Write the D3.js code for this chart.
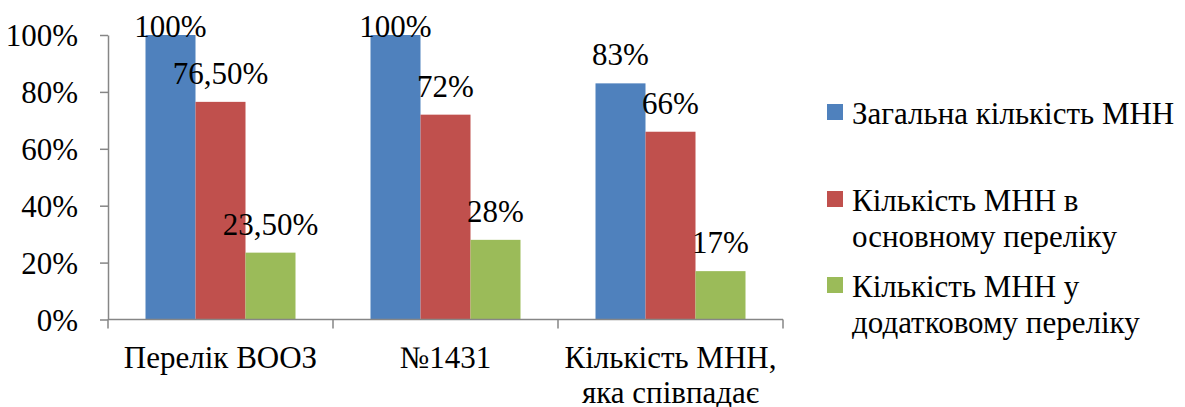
<!DOCTYPE html>
<html>
<head>
    <meta charset="UTF-8">
    <script src="https://d3js.org/d3.v7.min.js"></script>
    <style>
        body { margin: 0; }
        #chart text { font-family: "Liberation Serif", Tinos, "DejaVu Serif", serif !important; }
    </style>
</head>
<body>
    <svg id="chart" width="1185" height="407"></svg>
    <script>
    // data
        const categories = [["Перелік ВООЗ"], ["№1431"], ["Кількість МНН,", "яка співпадає"]];
        const seriesNames = [["Загальна кількість МНН"],
                             ["Кількість МНН в", "основному переліку"],
                             ["Кількість МНН у", "додатковому переліку"]];
        const values = [
            [1.00, 1.00, 0.83],
            [0.765, 0.72, 0.66],
            [0.235, 0.28, 0.17]
        ];
        const valueLabels = [
            ["100%", "100%", "83%"],
            ["76,50%", "72%", "66%"],
            ["23,50%", "28%", "17%"]
        ];
        const yTicks = [0, 0.2, 0.4, 0.6, 0.8, 1.0];
        const colors = ["#4F81BD", "#C0504D", "#9BBB59"];

        const fontSize = 31;
        const axisColor = "#868686";

        const svg = d3.select("#chart").style("display", "block");

    //scales
        const catIdx = categories.map((d, i) => i);
        const serIdx = seriesNames.map((d, i) => i);

        const x0 = d3.scaleBand()
            .domain(catIdx)
            .range([108, 783]);

        const x1 = d3.scaleBand()
            .domain(serIdx)
            .range([0, x0.bandwidth()])
            .paddingOuter(0.75);

        const y = d3.scaleLinear()
            .domain([0, 1])
            .range([319.5, 35]);

    //bars
        serIdx.forEach(s => {
            svg.append("g")
                .selectAll("rect")
                .data(values[s])
                .join("rect")
                .attr("x", (d, i) => x0(i) + x1(s))
                .attr("y", d => y(d))
                .attr("width", x1.bandwidth())
                .attr("height", d => y(0) - y(d))
                .attr("fill", colors[s]);
        });

    //y axis
        const yAxis = svg.append("g")
            .attr("transform", `translate(${x0.range()[0]},0)`)
            .call(d3.axisLeft(y)
                .tickValues(yTicks)
                .tickFormat(d3.format(".0%"))
                .tickSize(8)
                .tickSizeOuter(0)
                .tickPadding(22));
        yAxis.attr("font-size", fontSize);
        yAxis.select(".domain").attr("stroke", axisColor).attr("stroke-width", 1.5);
        yAxis.selectAll(".tick line").attr("stroke", axisColor).attr("stroke-width", 1.5);
        yAxis.selectAll(".tick text")
            .attr("fill", "#000")
            .attr("dy", "0.35em");

    //x axis: baseline with ticks at band boundaries
        const xAxisG = svg.append("g");
        xAxisG.append("line")
            .attr("x1", x0.range()[0]).attr("x2", x0.range()[1])
            .attr("y1", y(0)).attr("y2", y(0))
            .attr("stroke", axisColor).attr("stroke-width", 1.5);
        const bounds = catIdx.map(i => x0(i)).concat([x0.range()[1]]);
        xAxisG.selectAll("line.bt")
            .data(bounds)
            .join("line")
            .attr("class", "bt")
            .attr("x1", d => d).attr("x2", d => d)
            .attr("y1", y(0)).attr("y2", y(0) + 9)
            .attr("stroke", axisColor).attr("stroke-width", 1.5);

        const catLabels = xAxisG.selectAll("text.cat")
            .data(categories)
            .join("text")
            .attr("class", "cat")
            .attr("text-anchor", "middle")
            .attr("font-size", fontSize)
            .attr("x", (d, i) => x0(i) + x0.bandwidth() / 2)
            .attr("y", 368);
        catLabels.selectAll("tspan")
            .data(d => d)
            .join("tspan")
            .attr("x", function() { return this.parentNode.getAttribute("x"); })
            .attr("dy", (d, i) => i === 0 ? 0 : 35)
            .text(d => d);

    //value labels
        serIdx.forEach(s => {
            svg.append("g")
                .selectAll("text")
                .data(values[s])
                .join("text")
                .attr("text-anchor", "middle")
                .attr("font-size", fontSize)
                .attr("x", (d, i) => x0(i) + x1(s) + x1.bandwidth() / 2)
                .attr("y", d => Math.max(y(d) - 18, 37))
                .text((d, i) => valueLabels[s][i]);
        });

    //legend
        const legendBaselines = [124, 211, 297];
        const legend = svg.append("g");
        serIdx.forEach(s => {
            legend.append("rect")
                .attr("x", 827)
                .attr("y", legendBaselines[s] - 20)
                .attr("width", 16)
                .attr("height", 16)
                .attr("fill", colors[s]);
            const t = legend.append("text")
                .attr("font-size", fontSize)
                .attr("x", 852)
                .attr("y", legendBaselines[s]);
            t.selectAll("tspan")
                .data(seriesNames[s])
                .join("tspan")
                .attr("x", 852)
                .attr("dy", (d, i) => i === 0 ? 0 : 36)
                .text(d => d);
        });
    </script>
</body>
</html>
